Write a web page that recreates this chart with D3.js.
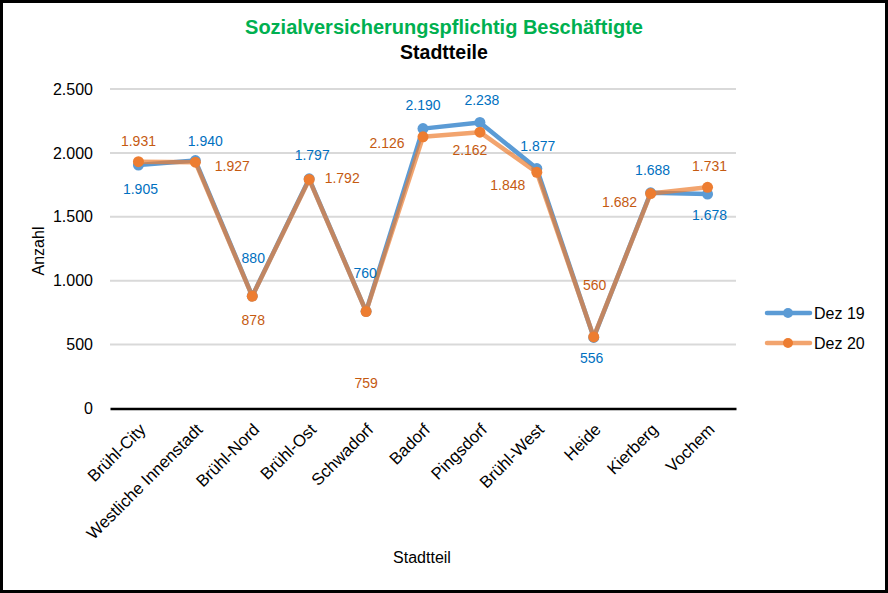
<!DOCTYPE html>
<html>
<head>
<meta charset="utf-8">
<script src="https://cdn.jsdelivr.net/npm/d3@7"></script>
<style>
  html, body { margin: 0; padding: 0; background: #fff; }
  svg { display: block; font-family: "Liberation Sans", Arial, sans-serif; }
</style>
</head>
<body>
<svg id="chart" width="888" height="593"></svg>
<script>
// ---- data ----
const categories = ["Brühl-City", "Westliche Innenstadt", "Brühl-Nord", "Brühl-Ost", "Schwadorf",
  "Badorf", "Pingsdorf", "Brühl-West", "Heide", "Kierberg", "Vochem"];
const dez19 = [1905, 1940, 880, 1797, 760, 2190, 2238, 1877, 556, 1688, 1678];
const dez20 = [1931, 1927, 878, 1792, 759, 2126, 2162, 1848, 560, 1682, 1731];
const seriesNames = ["Dez 19", "Dez 20"];
const yTicks = [0, 500, 1000, 1500, 2000, 2500];
const titleText = "Sozialversicherungspflichtig Beschäftigte";
const subtitleText = "Stadtteile";
const xAxisTitle = "Stadtteil";
const yAxisTitle = "Anzahl";

// ---- label placement (offsets of label centre from point, px) ----
const labelOffsets19 = [[2, 24], [10, -19], [1, -38], [3, -24], [-1, -38], [0, -24], [2, -22], [1, -23], [-2, 21], [2, -23], [2, 21]];
const labelOffsets20 = [[0, -21], [37, 4], [1, 24], [33, -1], [0, 72], [-36, 6], [-10, 18], [-29, 13], [1, -52], [-31, 9], [2, -21]];

const fmt = v => d3.format(",")(v).replace(/,/g, ".");

const svg = d3.select("#chart");
const W = 888, H = 593;
const plot = { left: 110, right: 736, top: 89, bottom: 408.5 };

const x = d3.scaleBand().domain(categories).range([plot.left, plot.right]);
const y = d3.scaleLinear().domain([0, 2500]).range([plot.bottom, plot.top]);
const cx = c => x(c) + x.bandwidth() / 2;

// background + frame
svg.append("rect").attr("x", 1.5).attr("y", 1.5).attr("width", W - 3).attr("height", H - 3)
  .attr("fill", "#fff").attr("stroke", "#000").attr("stroke-width", 3);

// titles
svg.append("text").attr("x", 444).attr("y", 34).attr("text-anchor", "middle")
  .attr("font-size", 20).attr("font-weight", "bold").attr("fill", "#00B050").text(titleText);
svg.append("text").attr("x", 444).attr("y", 58.5).attr("text-anchor", "middle")
  .attr("font-size", 19.5).attr("font-weight", "bold").attr("fill", "#000").text(subtitleText);

// gridlines
svg.append("g").selectAll("line").data(yTicks.filter(t => t > 0)).join("line")
  .attr("x1", plot.left).attr("x2", plot.right)
  .attr("y1", d => y(d)).attr("y2", d => y(d))
  .attr("stroke", "#D9D9D9").attr("stroke-width", 2);

// y axis labels
const yAxis = d3.axisLeft(y).tickValues(yTicks).tickFormat(fmt).tickSize(0).tickPadding(15);
const yg = svg.append("g").attr("transform", `translate(${plot.left - 2},0)`).call(yAxis);
yg.select(".domain").remove();
yg.selectAll("text").attr("font-size", 16).attr("fill", "#000")
  .attr("font-family", "Liberation Sans, Arial, sans-serif");

// x axis
const xAxis = d3.axisBottom(x).tickSize(0).tickPadding(0);
const xg = svg.append("g").attr("transform", `translate(0,${plot.bottom})`).call(xAxis);
xg.select(".domain").attr("stroke", "#000").attr("stroke-width", 2.5);
xg.selectAll("text")
  .attr("font-size", 16.8).attr("fill", "#000")
  .attr("font-family", "Liberation Sans, Arial, sans-serif")
  .attr("text-anchor", "end")
  .attr("dy", "0.35em")
  .attr("y", 0)
  .attr("transform", "translate(4,18) rotate(-45)");

// axis titles
svg.append("text").attr("x", 422).attr("y", 563).attr("text-anchor", "middle")
  .attr("font-size", 16).attr("fill", "#000").text(xAxisTitle);
svg.append("text").attr("transform", "translate(44,251) rotate(-90)").attr("text-anchor", "middle")
  .attr("font-size", 16).attr("fill", "#000").text(yAxisTitle);

// lines
const series = [
  { name: seriesNames[0], values: dez19, line: "#5B9BD5", marker: "#5B9BD5", lineOpacity: 1, label: "#0070C0", offsets: labelOffsets19 },
  { name: seriesNames[1], values: dez20, line: "#ED7D31", marker: "#ED7D31", lineOpacity: 0.7, label: "#C55A11", offsets: labelOffsets20 }
];
const lineGen = d3.line().x((d, i) => cx(categories[i])).y(d => y(d));

series.forEach(s => {
  svg.append("path").datum(s.values).attr("d", lineGen)
    .attr("fill", "none").attr("stroke", s.line).attr("stroke-width", 4.5)
    .attr("stroke-opacity", s.lineOpacity).attr("stroke-linejoin", "round").attr("stroke-linecap", "round");
  svg.append("g").selectAll("circle").data(s.values).join("circle")
    .attr("cx", (d, i) => cx(categories[i])).attr("cy", d => y(d)).attr("r", 5.5)
    .attr("fill", s.marker);
});

series.forEach(s => {
  svg.append("g").selectAll("text").data(s.values).join("text")
    .attr("x", (d, i) => cx(categories[i]) + s.offsets[i][0])
    .attr("y", (d, i) => y(d) + s.offsets[i][1])
    .attr("dy", "0.35em").attr("text-anchor", "middle")
    .attr("font-size", 14).attr("fill", s.label).text(d => fmt(d));
});

// legend
const lg = svg.append("g");
series.forEach((s, i) => {
  const ly = 313 + i * 30;
  lg.append("line").attr("x1", 767).attr("x2", 810).attr("y1", ly).attr("y2", ly)
    .attr("stroke", s.line).attr("stroke-opacity", s.lineOpacity).attr("stroke-width", 4.5).attr("stroke-linecap", "round");
  lg.append("circle").attr("cx", 788).attr("cy", ly).attr("r", 5).attr("fill", s.marker);
  lg.append("text").attr("x", 814).attr("y", ly).attr("dy", "0.35em")
    .attr("font-size", 16).attr("fill", "#000").text(s.name);
});
</script>
</body>
</html>
